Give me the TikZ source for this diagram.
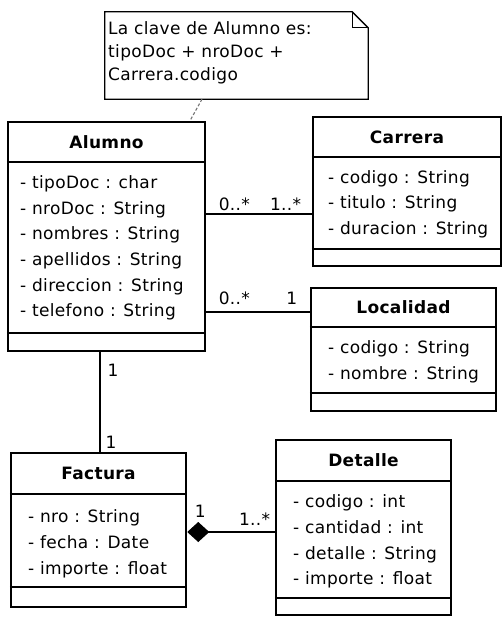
\documentclass[tikz,border=0pt]{standalone}
\usepackage{fontspec}
\setmainfont{DejaVu Sans}[LetterSpace=2]
\usepackage{tikz}
\usetikzlibrary{fit,arrows.meta}

\tikzset{
  classbox/.style={draw, line width=2.5pt, inner sep=0pt},
  divider/.style={line width=1.4pt},
  classname/.style={inner sep=0pt, font=\fontsize{17}{25}\selectfont\bfseries},
  attr/.style={anchor=west, inner sep=0pt, text height=12pt, text depth=4pt},
  mult/.style={inner sep=0pt, text height=12pt, text depth=0pt},
  assoc/.style={line width=1.1pt},
  notelink/.style={line width=1.1pt, black!55, dash pattern=on 3pt off 2pt},
}

\begin{document}
\begin{tikzpicture}[x=1pt, y=-1pt,
  every node/.append style={font=\fontsize{17}{25}\selectfont}]
\useasboundingbox (0,0) rectangle (503,617);

% note
\node[inner sep=0pt, fit={(105,12) (368,99)}] (note) {};
\draw[line width=1.3pt] (note.south west) -- (note.south east)
  -- ([yshift=-16pt]note.north east) -- ([xshift=-16pt]note.north east)
  -- (note.north west) -- cycle;
\draw[line width=1.3pt] ([xshift=-16pt]note.north east)
  |- ([yshift=-16pt]note.north east);
\node[anchor=north west, inner sep=0pt, align=left,
  font=\fontsize{17}{23}\selectfont] (notetext) at (108,21)
  {La clave de Alumno es:\\tipoDoc + nroDoc +\\Carrera.codigo};

% Alumno
\node[classbox, fit={(8,122) (205,351)}] (alumno) {};
\draw[divider] (alumno.west |- 0,162) -- (alumno.east |- 0,162);
\draw[divider] (alumno.west |- 0,333) -- (alumno.east |- 0,333);
\node[classname] (alumnoname) at (alumno.north |- 0,142) {Alumno};
\node[attr] (al1) at (20,185) {- tipoDoc : char};
\node[attr] (al2) at (20,210.5) {- nroDoc : String};
\node[attr] (al3) at (20,236) {- nombres : String};
\node[attr] (al4) at (20,261.5) {- apellidos : String};
\node[attr] (al5) at (20,287) {- direccion : String};
\node[attr] (al6) at (20,312.5) {- telefono : String};

% Carrera
\node[classbox, fit={(313,117) (501,266)}] (carrera) {};
\draw[divider] (carrera.west |- 0,157) -- (carrera.east |- 0,157);
\draw[divider] (carrera.west |- 0,249) -- (carrera.east |- 0,249);
\node[classname] (carreraname) at (carrera.north |- 0,137) {Carrera};
\node[attr] (ca1) at (328,180) {- codigo : String};
\node[attr] (ca2) at (328,205) {- titulo : String};
\node[attr] (ca3) at (328,230) {- duracion : String};

% Localidad
\node[classbox, fit={(311,288) (496,411)}] (localidad) {};
\draw[divider] (localidad.west |- 0,327) -- (localidad.east |- 0,327);
\draw[divider] (localidad.west |- 0,393) -- (localidad.east |- 0,393);
\node[classname] (localidadname) at (localidad.north |- 0,307.5) {Localidad};
\node[attr] (lo1) at (328,349) {- codigo : String};
\node[attr] (lo2) at (328,375) {- nombre : String};

% Factura
\node[classbox, fit={(11,453) (186,607)}] (factura) {};
\draw[divider] (factura.west |- 0,494) -- (factura.east |- 0,494);
\draw[divider] (factura.west |- 0,587) -- (factura.east |- 0,587);
\node[classname] (facturaname) at (factura.north |- 0,473.5) {Factura};
\node[attr] (fa1) at (28,518) {- nro : String};
\node[attr] (fa2) at (28,544) {- fecha : Date};
\node[attr] (fa3) at (28,570) {- importe : float};

% Detalle
\node[classbox, fit={(276,440) (451,615)}] (detalle) {};
\draw[divider] (detalle.west |- 0,481) -- (detalle.east |- 0,481);
\draw[divider] (detalle.west |- 0,598) -- (detalle.east |- 0,598);
\node[classname] (detallename) at (detalle.north |- 0,460.5) {Detalle};
\node[attr] (de1) at (293,503) {- codigo : int};
\node[attr] (de2) at (293,529) {- cantidad : int};
\node[attr] (de3) at (293,555) {- detalle : String};
\node[attr] (de4) at (293,580) {- importe : float};

% connectors
\draw[notelink] (note.south -| 202,0) -- (alumno.north -| 190,0);
\draw[assoc] (alumno.east |- 0,214) -- (carrera.west |- 0,214)
  node[mult, pos=0, anchor=south west, xshift=12pt, yshift=3pt] (m1) {0..*}
  node[mult, pos=1, anchor=south east, xshift=-10pt, yshift=3pt] (m2) {1..*};
\draw[assoc] (alumno.east |- 0,312) -- (localidad.west |- 0,312)
  node[mult, pos=0, anchor=south west, xshift=12pt, yshift=7pt] (m3) {0..*}
  node[mult, pos=1, anchor=south east, xshift=-12pt, yshift=7pt] (m4) {1};
\draw[assoc] (alumno.south -| 100,0) -- (factura.north -| 100,0)
  node[mult, pos=0, anchor=north west, xshift=7pt, yshift=-12pt] (m5) {1}
  node[mult, pos=1, anchor=south west, xshift=5pt, yshift=3pt] (m6) {1};
\draw[assoc, {Diamond[length=22pt, width=20pt]}-] (factura.east |- 0,532)
  -- (detalle.west |- 0,532)
  node[mult, pos=0, anchor=south west, xshift=7pt, yshift=14pt] (m7) {1}
  node[mult, pos=1, anchor=south east, xshift=-4pt, yshift=6pt] (m8) {1..*};
\end{tikzpicture}
\end{document}
